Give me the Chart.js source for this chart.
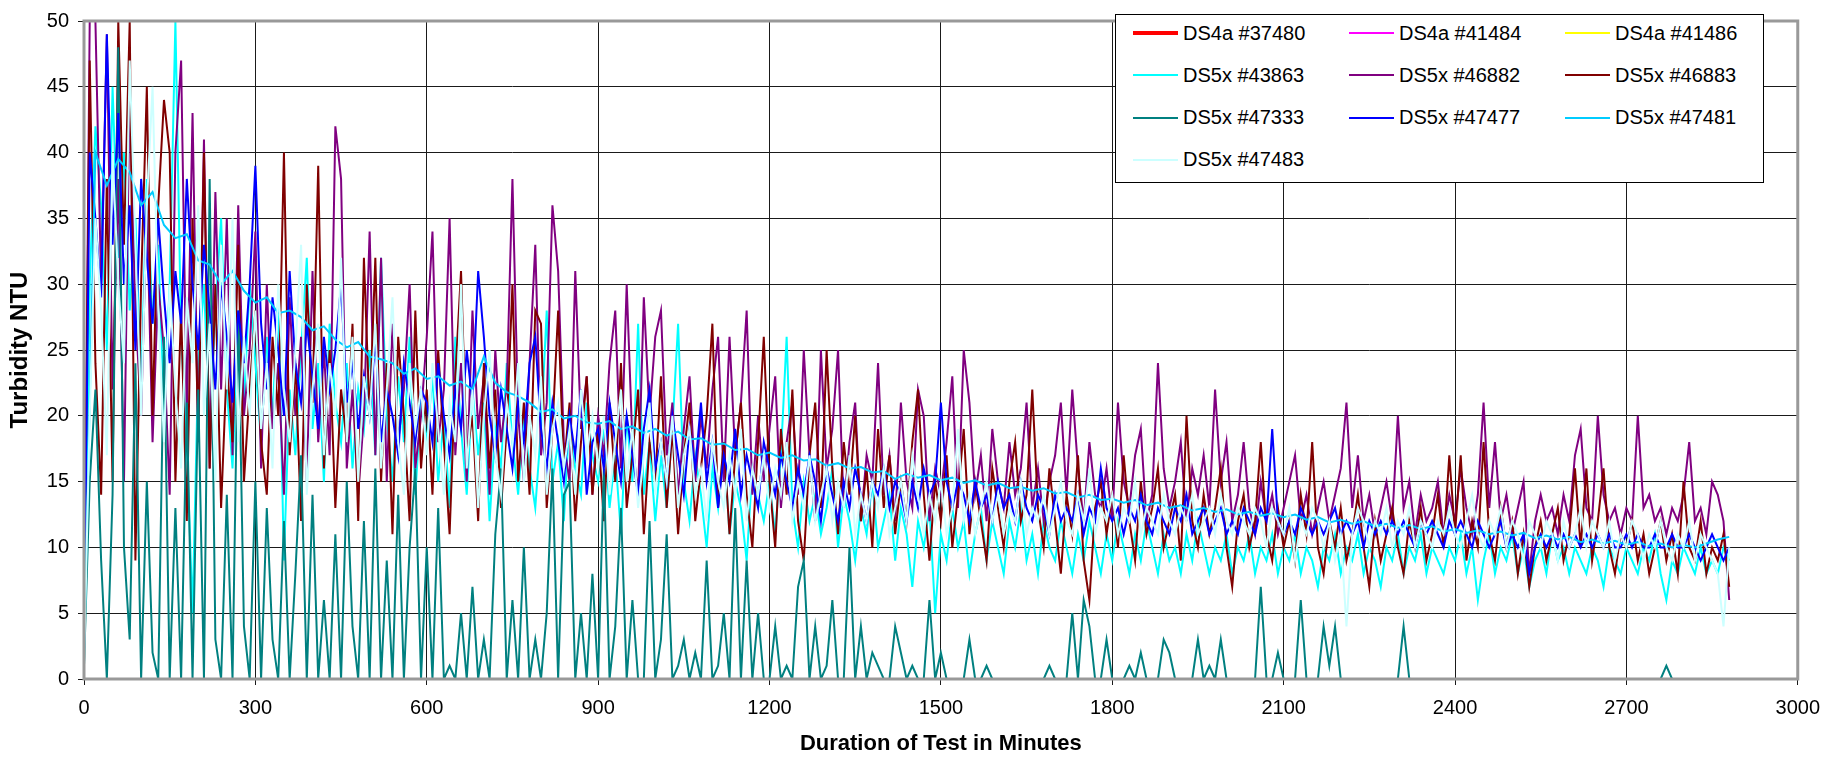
<!DOCTYPE html>
<html>
<head>
<meta charset="utf-8">
<script src="https://cdn.jsdelivr.net/npm/chart.js@4.4.1/dist/chart.umd.min.js"></script>
<style>
  html, body { margin: 0; padding: 0; background: #fff; }
  #wrap { position: relative; width: 1831px; height: 759px; }
  #legend {
    position: absolute; left: 1115px; top: 14px; width: 649px; height: 169px;
    box-sizing: border-box; border: 1px solid #000; background: #fff;
    font-family: "Liberation Sans", Arial, sans-serif; color: #000;
  }
  .item { position: absolute; height: 20px; display: flex; align-items: center; }
  .swatch { width: 45px; margin-right: 5px; }
  .item span { font-size: 20px; white-space: nowrap; }
</style>
</head>
<body>
<div id="wrap">
  <canvas id="turbidityChart" width="1831" height="759"></canvas>
  <div id="legend"></div>
</div>
<script>
// readings every 10 minutes (20 for the smooth #47481 trace), 0..2880 min
const STEP_NOISY = 10;
const STEP_SMOOTH = 20;

const xTicks = [0, 300, 600, 900, 1200, 1500, 1800, 2100, 2400, 2700, 3000];
const yTicks = [0, 5, 10, 15, 20, 25, 30, 35, 40, 45, 50];

// DS4a units: in the legend only, no readings plotted
const turb37480 = [];
const turb41484 = [];
const turb41486 = [];

const turb43863 = [
  1,30,42,36,25,45,32,40,28,35, 22,38,27,33,20,30,50,26,18,5, 24,30,19,28,35,22,16,27,21,30,
  24,18,26,20,29,9,22,17,25,32, 19,24,15,27,21,18,24,16,22,19, 25,17,32,20,15,23,18,26,14,21,
  18,23,15,20,13,26,19,14,22,17, 21,12,19,16,24,18,14,20,16,13, 19,28,15,18,12,20,16,14,21,17,
  15,19,13,17,11,20,15,27,14,18, 12,17,13,19,27,15,12,17,14,10, 16,13,18,11,15,13,9,16,14,12,
  15,11,17,26,13,10,15,12,14,11, 13,16,10,14,12,9,13,11,15,10, 12,14,9,13,11,7,12,10,13,5,
  11,9,13,10,12,8,11,13,9,12, 10,8,12,10,13,9,11,8,12,10, 9,12,10,8,11,9,12,10,8,11,
  9,12,10,8,11,9,12,10,8,11, 9,10,8,11,9,12,10,8,10,9, 11,8,10,9,11,8,10,9,11,8,
  10,9,11,8,10,9,7,10,9,11, 8,10,9,11,8,10,9,7,10,9, 11,8,10,9,11,8,10,9,8,10,
  9,11,8,10,6,9,11,8,10,9, 11,8,10,7,9,10,8,11,9,10, 8,10,9,8,10,9,7,10,9,8,
  10,9,8,10,9,11,8,6,9,8, 10,9,8,10,8,9,8,10,9
];

const turb46882 = [
  3,50,50,30,49,22,38,15,45,28, 20,36,18,30,25,14,40,47,20,43, 18,41,16,37,22,35,17,36,20,25,
  34,16,30,19,24,14,29,20,26,15, 31,18,25,17,42,38,16,22,14,20, 34,17,32,15,27,18,22,30,16,20,
  26,34,18,22,35,17,24,15,28,19, 23,14,25,18,22,38,20,15,24,33, 17,21,36,31,18,15,31,19,23,14,
  20,17,24,28,16,30,18,14,29,20, 26,28,17,21,14,19,23,15,20,16, 22,26,15,26,17,21,28,14,20,15,
  19,23,13,18,21,14,25,17,12,25, 16,19,25,13,18,21,12,17,15,24, 14,17,12,21,15,13,22,20,12,16,
  14,18,23,13,25,21,14,17,12,19, 15,13,18,14,16,21,13,16,12,15, 17,21,14,22,16,12,18,14,13,16,
  12,21,15,13,17,19,12,14,24,16, 13,15,18,12,16,14,17,13,22,15, 18,12,14,18,13,11,15,12,14,11,
  13,15,17,12,14,11,13,15,12,14, 16,21,13,17,12,14,11,13,15,12, 20,13,15,11,14,12,13,15,11,14,
  12,16,13,11,14,21,13,18,12,14, 11,13,15,8,12,14,12,13,11,14, 12,17,19,13,12,20,14,12,13,11,
  13,12,20,13,14,12,13,11,13,12, 14,18,12,13,11,15,14,12,6
];

const turb46883 = [
  1,47,24,14,38,15,50,33,50,9, 30,45,20,36,44,40,15,28,12,35, 19,40,16,30,13,24,18,33,15,22,
  28,18,14,26,20,40,17,24,12,30, 21,39,16,25,13,22,18,27,12,32, 20,32,15,24,11,26,20,12,28,16,
  22,14,25,18,11,23,31,17,20,12, 24,16,22,13,19,30,15,21,14,28, 27,13,19,28,16,21,12,18,23,14,
  19,12,21,15,24,13,17,22,11,18, 15,23,13,19,11,17,21,12,16,20, 27,13,18,11,17,21,14,10,18,26,
  15,10,19,14,22,12,9,17,21,13, 25,16,11,18,14,20,12,16,10,19, 13,17,11,15,12,18,22,14,9,15,
  12,17,10,14,19,11,15,12,9,16, 13,10,15,18,12,14,22,13,10,16, 12,8,14,11,17,9,6,13,15,11,
  14,10,17,12,9,15,11,13,16,10, 12,14,9,20,12,10,14,11,13,16, 10,7,12,14,10,12,18,11,9,13,
  10,12,9,14,11,18,10,8,12,10, 13,9,11,14,10,7,12,9,11,13, 10,8,12,10,13,9,11,14,10,17,
  11,17,9,12,10,18,11,9,13,10, 12,8,11,7,10,12,9,11,13,9, 11,16,10,16,9,12,16,10,8,11,
  10,12,9,11,8,10,12,9,11,8, 15,10,9,12,8,10,9,11,7
];

const turb47333 = [
  1,15,22,9,0,14,48,10,3,24, 0,15,2,0,26,0,13,0,21,0, 22,0,38,3,0,14,0,28,4,0,
  15,0,13,3,0,12,0,8,17,0, 14,0,6,0,11,0,15,4,0,12, 0,16,0,9,0,14,0,10,16,0,
  10,0,13,0,1,0,5,0,7,0, 3,0,11,16,0,6,0,10,0,3, 0,5,16,0,14,15,0,5,0,8,
  0,16,0,4,13,0,6,0,0,12, 0,3,11,0,1,3,0,2,0,9, 0,1,5,0,13,0,9,0,5,0,
  0,4,0,1,0,7,9,0,4,0, 1,6,0,0,10,0,4,0,2,1, 0,0,4,2,0,1,0,0,6,0,
  2,0,0,0,0,3,0,0,1,0, 0,0,0,0,0,0,0,0,0,1, 0,0,0,5,0,6,4,0,0,3,
  0,0,0,1,0,2,0,0,0,3, 2,0,0,0,0,3,0,1,0,3, 0,0,0,0,0,0,7,0,0,2,
  0,0,0,6,0,0,0,4,1,4, 0,0,0,0,0,0,0,0,0,0, 0,4,0,0,0,0,0,0,0,0,
  0,0,0,0,0,0,0,0,0,0, 0,0,0,0,0,0,0,0,0,0, 0,0,0,0,0,0,0,0,0,0,
  0,0,0,0,0,0,0,1,0,0, 0,0,0,0,0,0,0,0,0
];

const turb47477 = [
  2,40,35,29,49,33,43,30,36,25, 38,32,27,35,29,24,31,27,38,30, 25,33,28,22,30,26,21,28,24,30,
  39,27,22,29,25,20,31,24,21,27, 23,19,26,22,25,30,21,24,19,23, 20,26,18,22,20,17,24,21,18,22,
  21,18,24,20,17,22,19,25,21,31, 26,20,17,22,19,16,21,18,24,26, 19,16,21,18,15,20,17,22,14,18,
  19,16,21,18,15,20,17,14,19,22, 16,18,15,20,17,14,19,16,21,15, 18,13,17,15,19,14,17,15,13,18,
  16,14,17,15,13,16,14,17,15,12, 16,14,12,15,13,16,14,12,15,14, 16,13,15,14,12,15,13,16,14,15,
  21,15,13,15,14,12,15,13,14,12, 15,13,14,12,15,13,12,14,13,11, 14,12,13,12,14,11,13,12,16,13,
  12,13,11,13,12,14,12,11,13,12, 11,13,12,14,11,12,13,11,12,13, 11,12,11,13,12,11,13,12,19,12,
  11,12,11,13,12,11,12,11,12,13, 11,12,11,12,10,12,11,12,11,12, 11,12,11,10,12,11,12,11,10,12,
  11,12,11,10,12,11,10,11,12,10, 11,10,11,8,10,11,10,11,10,11, 10,11,10,11,10,11,10,11,10,10,
  11,10,11,10,10,11,10,10,11,10, 10,11,10,9,10,11,10,9,10
];

const turb47481 = [
  2,40,37.5,39.5,38.5,36,37,34.5,33.5,33.8,31.8,31.5,30,31,29.5,
  28.6,29,27.8,28,27.5,26.5,26.8,25.8,25.2,25.6,24.5,24.3,24,23.2,23.6,
  22.8,23,22.3,22.6,22,24.5,22.5,21.8,21.5,21,20.3,20.5,19.8,20,19.5,
  19.4,19.6,19,19.2,18.7,19,18.5,18.8,18.2,18.3,17.8,17.9,17.4,17.5,17,
  17.2,16.8,17,16.6,16.7,16.2,16.4,16,16.1,15.7,15.8,15.2,15.6,15.3,15.5,
  15.1,15.3,14.9,15.1,14.7,14.9,14.5,14.6,14.3,14.5,14.1,14.2,13.8,14,13.6,
  13.7,13.4,13.6,13.2,13.4,13,13.2,12.8,13,12.7,12.9,12.5,12.7,12.4,12.6,
  12.3,12.5,12.1,12.3,11.9,12.1,11.8,12,11.6,11.8,11.5,11.7,11.4,11.6,11.2,
  11.4,11.1,11.3,11,11.2,10.9,11.1,10.7,10.9,10.6,10.8,10.4,10.6,10.3,10.5,
  10.2,10.4,10.1,10.3,10,10.2,10,10.3,10.6,10.8
];

const turb47483 = [
  1,20,35,28,17,40,30,24,47,33, 20,36,45,28,18,30,22,16,29,24, 36,20,27,15,33,22,35,18,26,20,
  28,19,24,16,30,22,18,25,33,14, 22,27,17,24,20,32,18,26,15,23, 20,27,16,22,29,18,14,24,19,22,
  17,24,19,14,21,18,30,16,22,13, 20,25,17,14,21,18,24,15,20,17, 23,14,19,21,16,19,14,22,17,20,
  16,20,14,18,22,15,19,13,17,21, 14,18,15,20,13,17,19,14,16,12, 18,15,13,17,14,19,12,16,14,17,
  13,16,14,18,12,15,13,17,12,14, 16,12,15,13,17,11,14,12,15,13, 16,11,13,15,12,17,14,11,14,12,
  15,11,13,19,12,14,11,13,15,12, 14,11,13,12,15,11,13,12,14,11, 13,15,12,11,14,12,16,11,13,12,
  14,11,13,12,15,11,13,12,11,14, 12,11,13,12,14,11,12,13,11,14, 12,11,13,12,11,13,12,10,13,12,
  11,13,9,12,11,13,12,10,12,9, 11,4,11,13,12,10,12,11,13,10, 12,11,13,10,12,11,10,12,11,13,
  11,10,12,14,11,10,12,11,13,10, 12,11,9,12,11,10,12,11,9,12, 10,11,13,10,12,11,10,12,9,11,
  10,12,11,9,11,10,12,10,9,11, 10,12,9,11,10,9,8,4,10
];

const seriesNames = [
  'DS4a #37480', 'DS4a #41484', 'DS4a #41486',
  'DS5x #43863', 'DS5x #46882', 'DS5x #46883',
  'DS5x #47333', 'DS5x #47477', 'DS5x #47481',
  'DS5x #47483'
];
const seriesValues = [
  turb37480, turb41484, turb41486,
  turb43863, turb46882, turb46883,
  turb47333, turb47477, turb47481,
  turb47483
];
const seriesSteps = [
  STEP_NOISY, STEP_NOISY, STEP_NOISY,
  STEP_NOISY, STEP_NOISY, STEP_NOISY,
  STEP_NOISY, STEP_NOISY, STEP_SMOOTH,
  STEP_NOISY
];
const seriesColors = [
  '#ff0000', '#ff00ff', '#ffff00',
  '#00ffff', '#800080', '#800000',
  '#008080', '#0000ff', '#00ccff',
  '#ccffff'
];

function toPoints(values, step) {
  return values.map((v, i) => ({ x: i * step, y: v }));
}

// later series sit on top, like the spreadsheet drew them
const datasets = seriesNames.map((name, i) => ({
  label: name,
  data: toPoints(seriesValues[i], seriesSteps[i]),
  borderColor: seriesColors[i],
  backgroundColor: seriesColors[i],
  borderWidth: i === 0 ? 3 : 2,
  pointRadius: 0,
  tension: 0,
  order: seriesNames.length - i
}));

// grey frame round the plot area
const plotFrame = {
  id: 'plotFrame',
  afterDatasetsDraw(chart) {
    const { ctx, chartArea: a } = chart;
    ctx.save();
    ctx.strokeStyle = '#999999';
    ctx.lineWidth = 3;
    ctx.strokeRect(a.left, a.top, a.right - a.left, a.bottom - a.top);
    ctx.restore();
  }
};

const tickFont = { family: 'Liberation Sans', size: 20 };

new Chart(document.getElementById('turbidityChart').getContext('2d'), {
  type: 'line',
  data: { datasets: datasets },
  options: {
    responsive: false,
    animation: false,
    devicePixelRatio: 1,
    parsing: false,
    layout: { padding: { top: 16, right: 31, bottom: 0, left: 0 } },
    plugins: {
      legend: { display: false },
      tooltip: { enabled: false }
    },
    scales: {
      x: {
        type: 'linear',
        min: 0,
        max: 3000,
        afterBuildTicks: s => { s.ticks = xTicks.map(v => ({ value: v })); },
        afterFit: s => { s.height = 80; },
        grid: { color: '#1a1a1a', lineWidth: 1, tickLength: 6 },
        border: { display: false },
        ticks: { font: tickFont, color: '#000', padding: 11, maxRotation: 0, callback: v => String(v) },
        title: {
          display: true,
          text: 'Duration of Test in Minutes',
          color: '#000',
          font: { family: 'Liberation Sans', size: 22, weight: 'bold' },
          padding: { top: 0, bottom: 2 }
        }
      },
      y: {
        min: 0,
        max: 50,
        afterBuildTicks: s => { s.ticks = yTicks.map(v => ({ value: v })); },
        afterFit: s => { s.width = 84; },
        grid: { color: '#1a1a1a', lineWidth: 1, tickLength: 6 },
        border: { display: false },
        ticks: { font: tickFont, color: '#000', padding: 9, callback: v => String(v) },
        title: {
          display: true,
          text: 'Turbidity NTU',
          color: '#000',
          font: { family: 'Liberation Sans', size: 24, weight: 'bold' },
          padding: { top: 6, bottom: 0 }
        }
      }
    }
  },
  plugins: [plotFrame]
});

// legend box: three columns, drawn over the plot like the original
const legendBox = document.getElementById('legend');
seriesNames.forEach((name, i) => {
  const col = i % 3;
  const row = Math.floor(i / 3);
  const item = document.createElement('div');
  item.className = 'item';
  item.style.left = (17 + col * 216) + 'px';
  item.style.top = (8 + row * 42.3) + 'px';
  const swatch = document.createElement('div');
  swatch.className = 'swatch';
  swatch.style.borderTop = (i === 0 ? 4 : 2.5) + 'px solid ' + seriesColors[i];
  const label = document.createElement('span');
  label.textContent = name;
  item.appendChild(swatch);
  item.appendChild(label);
  legendBox.appendChild(item);
});
</script>
</body>
</html>
